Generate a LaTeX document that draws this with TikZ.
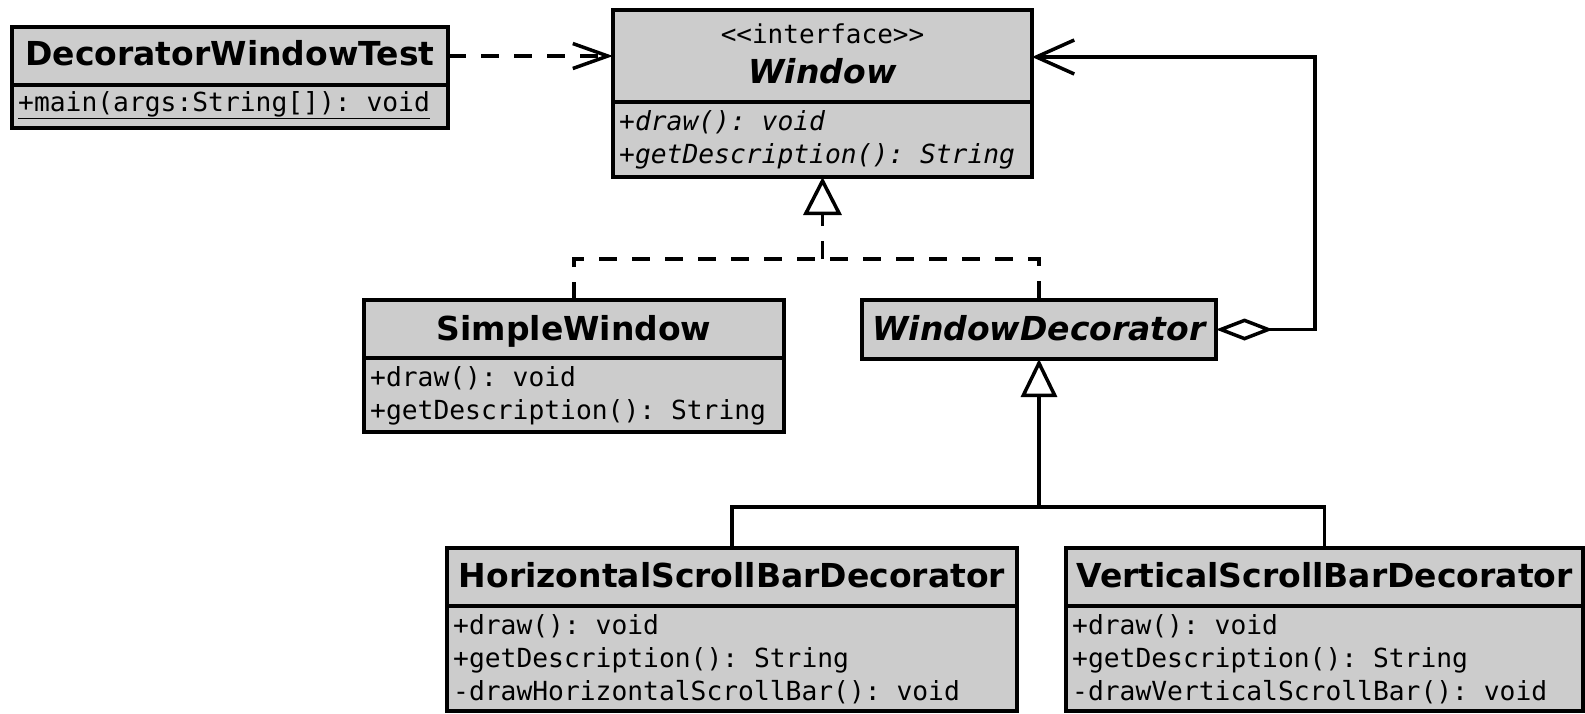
\documentclass[tikz,border=0pt]{standalone}
\usepackage{fontspec}
\setmainfont{DejaVu Sans}
\setmonofont{DejaVu Sans Mono}
\usetikzlibrary{arrows.meta}
\definecolor{boxgray}{RGB}{204,204,204}
\tikzset{
  cls/.style={draw, fill=boxgray, line width=4pt, inner sep=0pt, outer sep=0pt, anchor=north west},
  sep/.style={line width=4pt},
  ttl/.style={font=\fontsize{33}{38}\selectfont\bfseries, anchor=base, inner sep=0pt},
  ittl/.style={font=\fontsize{33}{38}\selectfont\bfseries\itshape, anchor=base, inner sep=0pt},
  mth/.style={font=\fontsize{26.3}{30}\selectfont\ttfamily, anchor=base west, inner sep=0pt},
  imth/.style={font=\fontsize{26.3}{30}\selectfont\ttfamily\itshape, anchor=base west, inner sep=0pt},
  stereo/.style={font=\fontsize{26}{28}\selectfont\ttfamily, anchor=base, inner sep=0pt},
  conn/.style={line width=3.5pt},
  dsh/.style={conn, dash pattern=on 18pt off 15pt},
}
\begin{document}
\begin{tikzpicture}[x=1pt,y=-1pt]
\useasboundingbox (0,0) rectangle (1585,713);
% boxes
\node[cls, minimum width=436pt, minimum height=101pt] (dwt) at (12,27) {};
\node[cls, minimum width=419pt, minimum height=167pt] (win) at (613,10) {};
\node[cls, minimum width=420pt, minimum height=132pt] (sw) at (364,300) {};
\node[cls, minimum width=354pt, minimum height=59pt] (wd) at (862,300) {};
\node[cls, minimum width=570pt, minimum height=163pt] (hsb) at (447,548) {};
\node[cls, minimum width=517pt, minimum height=163pt] (vsb) at (1066,548) {};
% dividers
\draw[sep] (12,85) -- (448,85);
\draw[sep] (613,102) -- (1032,102);
\draw[sep] (364,358) -- (784,358);
\draw[sep] (447,606) -- (1017,606);
\draw[sep] (1066,606) -- (1583,606);
% texts
\node[ttl] (dwtT) at (230,65) {DecoratorWindowTest};
\node[mth] (dwtM) at (18,111) {\underline{+main(args:String[]): void}};
\node[stereo] (winS) at (822.5,43) {<<interface>>};
\node[ittl] (winT) at (822.5,83) {Window};
\node[imth] (winM1) at (619,130) {+draw(): void};
\node[imth] (winM2) at (619,163) {+getDescription(): String};
\node[ttl] (swT) at (574,340) {SimpleWindow};
\node[mth] (swM1) at (370,386) {+draw(): void};
\node[mth] (swM2) at (370,419) {+getDescription(): String};
\node[ittl] (wdT) at (1039,340) {WindowDecorator};
\node[ttl] (hsbT) at (732,587) {HorizontalScrollBarDecorator};
\node[mth] (hsbM1) at (453,634) {+draw(): void};
\node[mth] (hsbM2) at (453,667) {+getDescription(): String};
\node[mth] (hsbM3) at (453,700) {-drawHorizontalScrollBar(): void};
\node[ttl] (vsbT) at (1324.5,587) {VerticalScrollBarDecorator};
\node[mth] (vsbM1) at (1072,634) {+draw(): void};
\node[mth] (vsbM2) at (1072,667) {+getDescription(): String};
\node[mth] (vsbM3) at (1072,700) {-drawVerticalScrollBar(): void};
% connectors
\coordinate (dep) at (0,56);
\draw[dsh, -{Straight Barb[length=35pt,width=25pt]}] (dwt.east |- dep) -- (win.west |- dep);
\coordinate (rj) at (822.5,259);
\draw[dsh] (sw.north) |- (rj) -| (wd.north);
\draw[dsh, -{Triangle[length=38pt,width=38pt,fill=white]}] (rj) -- (win.south);
\coordinate (ag) at (1315,57);
\draw[conn, {Diamond[length=57pt,width=22pt,fill=white]}-{Straight Barb[length=38pt,width=34pt]}] (wd.east) -| (ag) -- (win.east |- ag);
\coordinate (gj) at (1039,507);
\draw[conn] (hsb.north) |- (gj) -| (vsb.north);
\draw[conn, -{Triangle[length=38pt,width=36pt,fill=white]}] (gj) -- (wd.south);
\end{tikzpicture}
\end{document}
